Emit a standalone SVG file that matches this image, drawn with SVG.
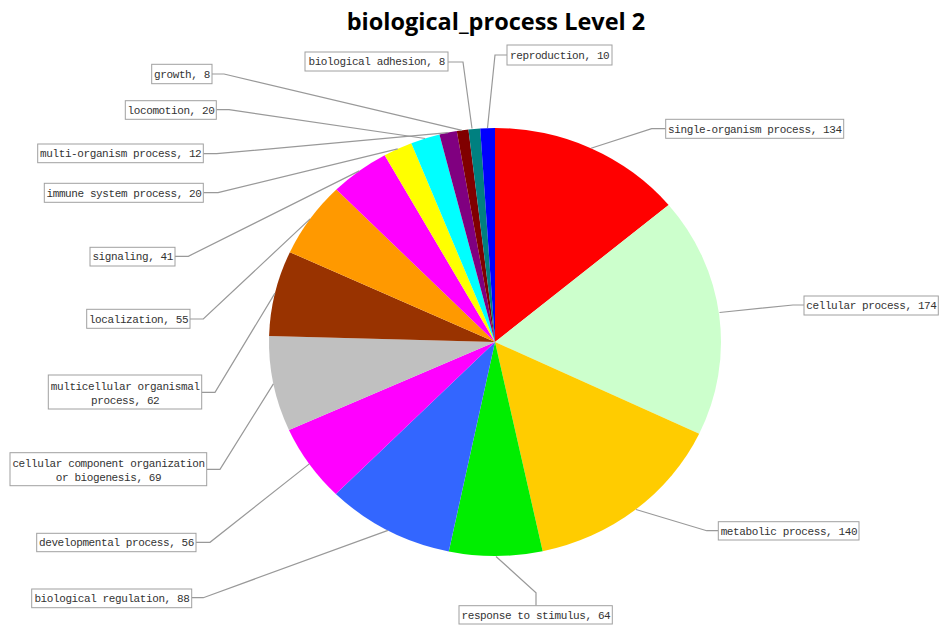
<svg xmlns="http://www.w3.org/2000/svg" width="941" height="626" viewBox="0 0 941 626">
<style>
.lbl rect{fill:#fff;stroke:#a0a0a0;stroke-width:1}
.lbl text{font-family:"Liberation Mono",monospace;font-size:11px;letter-spacing:-0.4px;fill:#333;text-anchor:middle}
#connectors polyline{fill:none;stroke:#999;stroke-width:1.2}
.title{font-family:"Open Sans","Liberation Sans",sans-serif;font-weight:bold;font-size:23.5px;fill:#000;text-anchor:middle}
</style>
<rect width="941" height="626" fill="#fff"/>
<text class="title" x="496" y="30">biological_process Level 2</text>
<g id="pie">
<path id="s-single" d="M495,342 L495,128 A226,214 0 0,1 668.63,205.02 Z" fill="#FF0000"/>
<path id="s-cellular" d="M495,342 L668.63,205.02 A226,214 0 0,1 699.19,433.72 Z" fill="#CCFFCC"/>
<path id="s-metabolic" d="M495,342 L699.19,433.72 A226,214 0 0,1 542.67,551.19 Z" fill="#FFCC00"/>
<path id="s-response" d="M495,342 L542.67,551.19 A226,214 0 0,1 448.78,551.48 Z" fill="#00EE00"/>
<path id="s-bioreg" d="M495,342 L448.78,551.48 A226,214 0 0,1 335.82,493.91 Z" fill="#3366FF"/>
<path id="s-dev" d="M495,342 L335.82,493.91 A226,214 0 0,1 288.94,429.92 Z" fill="#FF00FF"/>
<path id="s-ccorg" d="M495,342 L288.94,429.92 A226,214 0 0,1 269.09,336.05 Z" fill="#C0C0C0"/>
<path id="s-multicell" d="M495,342 L269.09,336.05 A226,214 0 0,1 289.88,252.17 Z" fill="#993300"/>
<path id="s-local" d="M495,342 L289.88,252.17 A226,214 0 0,1 336.37,189.57 Z" fill="#FF9900"/>
<path id="s-signal" d="M495,342 L336.37,189.57 A226,214 0 0,1 384.67,155.24 Z" fill="#FF00FF"/>
<path id="s-immune" d="M495,342 L384.67,155.24 A226,214 0 0,1 411.34,143.20 Z" fill="#FFFF00"/>
<path id="s-locomotion" d="M495,342 L411.34,143.20 A226,214 0 0,1 439.42,134.57 Z" fill="#00FFFF"/>
<path id="s-multiorg" d="M495,342 L439.42,134.57 A226,214 0 0,1 456.76,131.09 Z" fill="#800080"/>
<path id="s-growth" d="M495,342 L456.76,131.09 A226,214 0 0,1 468.46,129.48 Z" fill="#800000"/>
<path id="s-adhesion" d="M495,342 L468.46,129.48 A226,214 0 0,1 480.23,128.46 Z" fill="#008080"/>
<path id="s-repro" d="M495,342 L480.23,128.46 A226,214 0 0,1 495,128 Z" fill="#0000FF"/>
</g>
<g id="connectors">
<polyline points="665.7,128.7 651.7,128.7 591,148.2"/>
<polyline points="804,305 793,305 719.5,312.5"/>
<polyline points="718.3,530.7 706.7,530.7 636,509.5"/>
<polyline points="536,605.7 536,592.7 496,556.5"/>
<polyline points="191.7,597.7 203.3,597.7 388,530.4"/>
<polyline points="196,542.3 210,542.3 309.3,463.9"/>
<polyline points="206.7,469.3 220,469.3 273.4,383.9"/>
<polyline points="201.7,392.3 215,392.3 275,293.1"/>
<polyline points="190,319 203.3,319 310.1,218.9"/>
<polyline points="175,256.3 188.3,256.3 359.3,170.9"/>
<polyline points="203.3,192.7 218,192.7 397.7,148.8"/>
<polyline points="203.3,153.7 216.7,153.7 448,132.7"/>
<polyline points="216.3,109.7 229,109.7 425.2,138.5"/>
<polyline points="212,74 224,74 462,130.3"/>
<polyline points="448,62 463,62 472,128.5"/>
<polyline points="507,55 495,55 487.5,128"/>
</g>
<g id="n-single" class="lbl"><rect x="665.7" y="119.3" width="178" height="19"/><text x="754.9" y="132.6">single-organism process, 134</text></g>
<g id="n-cellular" class="lbl"><rect x="804" y="296" width="134.3" height="19"/><text x="871.4" y="309.3">cellular process, 174</text></g>
<g id="n-metabolic" class="lbl"><rect x="718.3" y="521.7" width="140.7" height="18.3"/><text x="788.9" y="534.6">metabolic process, 140</text></g>
<g id="n-response" class="lbl"><rect x="459" y="605.7" width="153.3" height="18.3"/><text x="535.9" y="618.6">response to stimulus, 64</text></g>
<g id="n-bioreg" class="lbl"><rect x="31.7" y="589" width="160" height="18.7"/><text x="111.9" y="602.1">biological regulation, 88</text></g>
<g id="n-dev" class="lbl"><rect x="36.7" y="533.3" width="159.3" height="18.4"/><text x="116.5" y="546.3">developmental process, 56</text></g>
<g id="n-ccorg" class="lbl"><rect x="10" y="452.7" width="196.7" height="33"/><text x="108.5" y="467.1">cellular component organization</text><text x="108.5" y="481.1">or biogenesis, 69</text></g>
<g id="n-multicell" class="lbl"><rect x="48.3" y="375" width="153.4" height="34"/><text x="125.2" y="389.5">multicellular organismal</text><text x="125.2" y="404.1">process, 62</text></g>
<g id="n-local" class="lbl"><rect x="86.7" y="309.3" width="103.3" height="19"/><text x="138.5" y="322.6">localization, 55</text></g>
<g id="n-signal" class="lbl"><rect x="90" y="247.3" width="85" height="18.7"/><text x="132.7" y="260.4">signaling, 41</text></g>
<g id="n-immune" class="lbl"><rect x="44.3" y="183.3" width="159" height="19"/><text x="124" y="196.6">immune system process, 20</text></g>
<g id="n-multiorg" class="lbl"><rect x="37.7" y="144" width="165.6" height="18.7"/><text x="120.7" y="157.1">multi-organism process, 12</text></g>
<g id="n-locomotion" class="lbl"><rect x="125.3" y="100.7" width="91" height="18.6"/><text x="171" y="113.8">locomotion, 20</text></g>
<g id="n-growth" class="lbl"><rect x="151.7" y="64.3" width="60.3" height="19.4"/><text x="182" y="77.8">growth, 8</text></g>
<g id="n-adhesion" class="lbl"><rect x="305" y="52" width="143" height="19"/><text x="376.7" y="65.3">biological adhesion, 8</text></g>
<g id="n-repro" class="lbl"><rect x="507" y="45" width="105" height="20"/><text x="559.7" y="58.8">reproduction, 10</text></g>
</svg>
